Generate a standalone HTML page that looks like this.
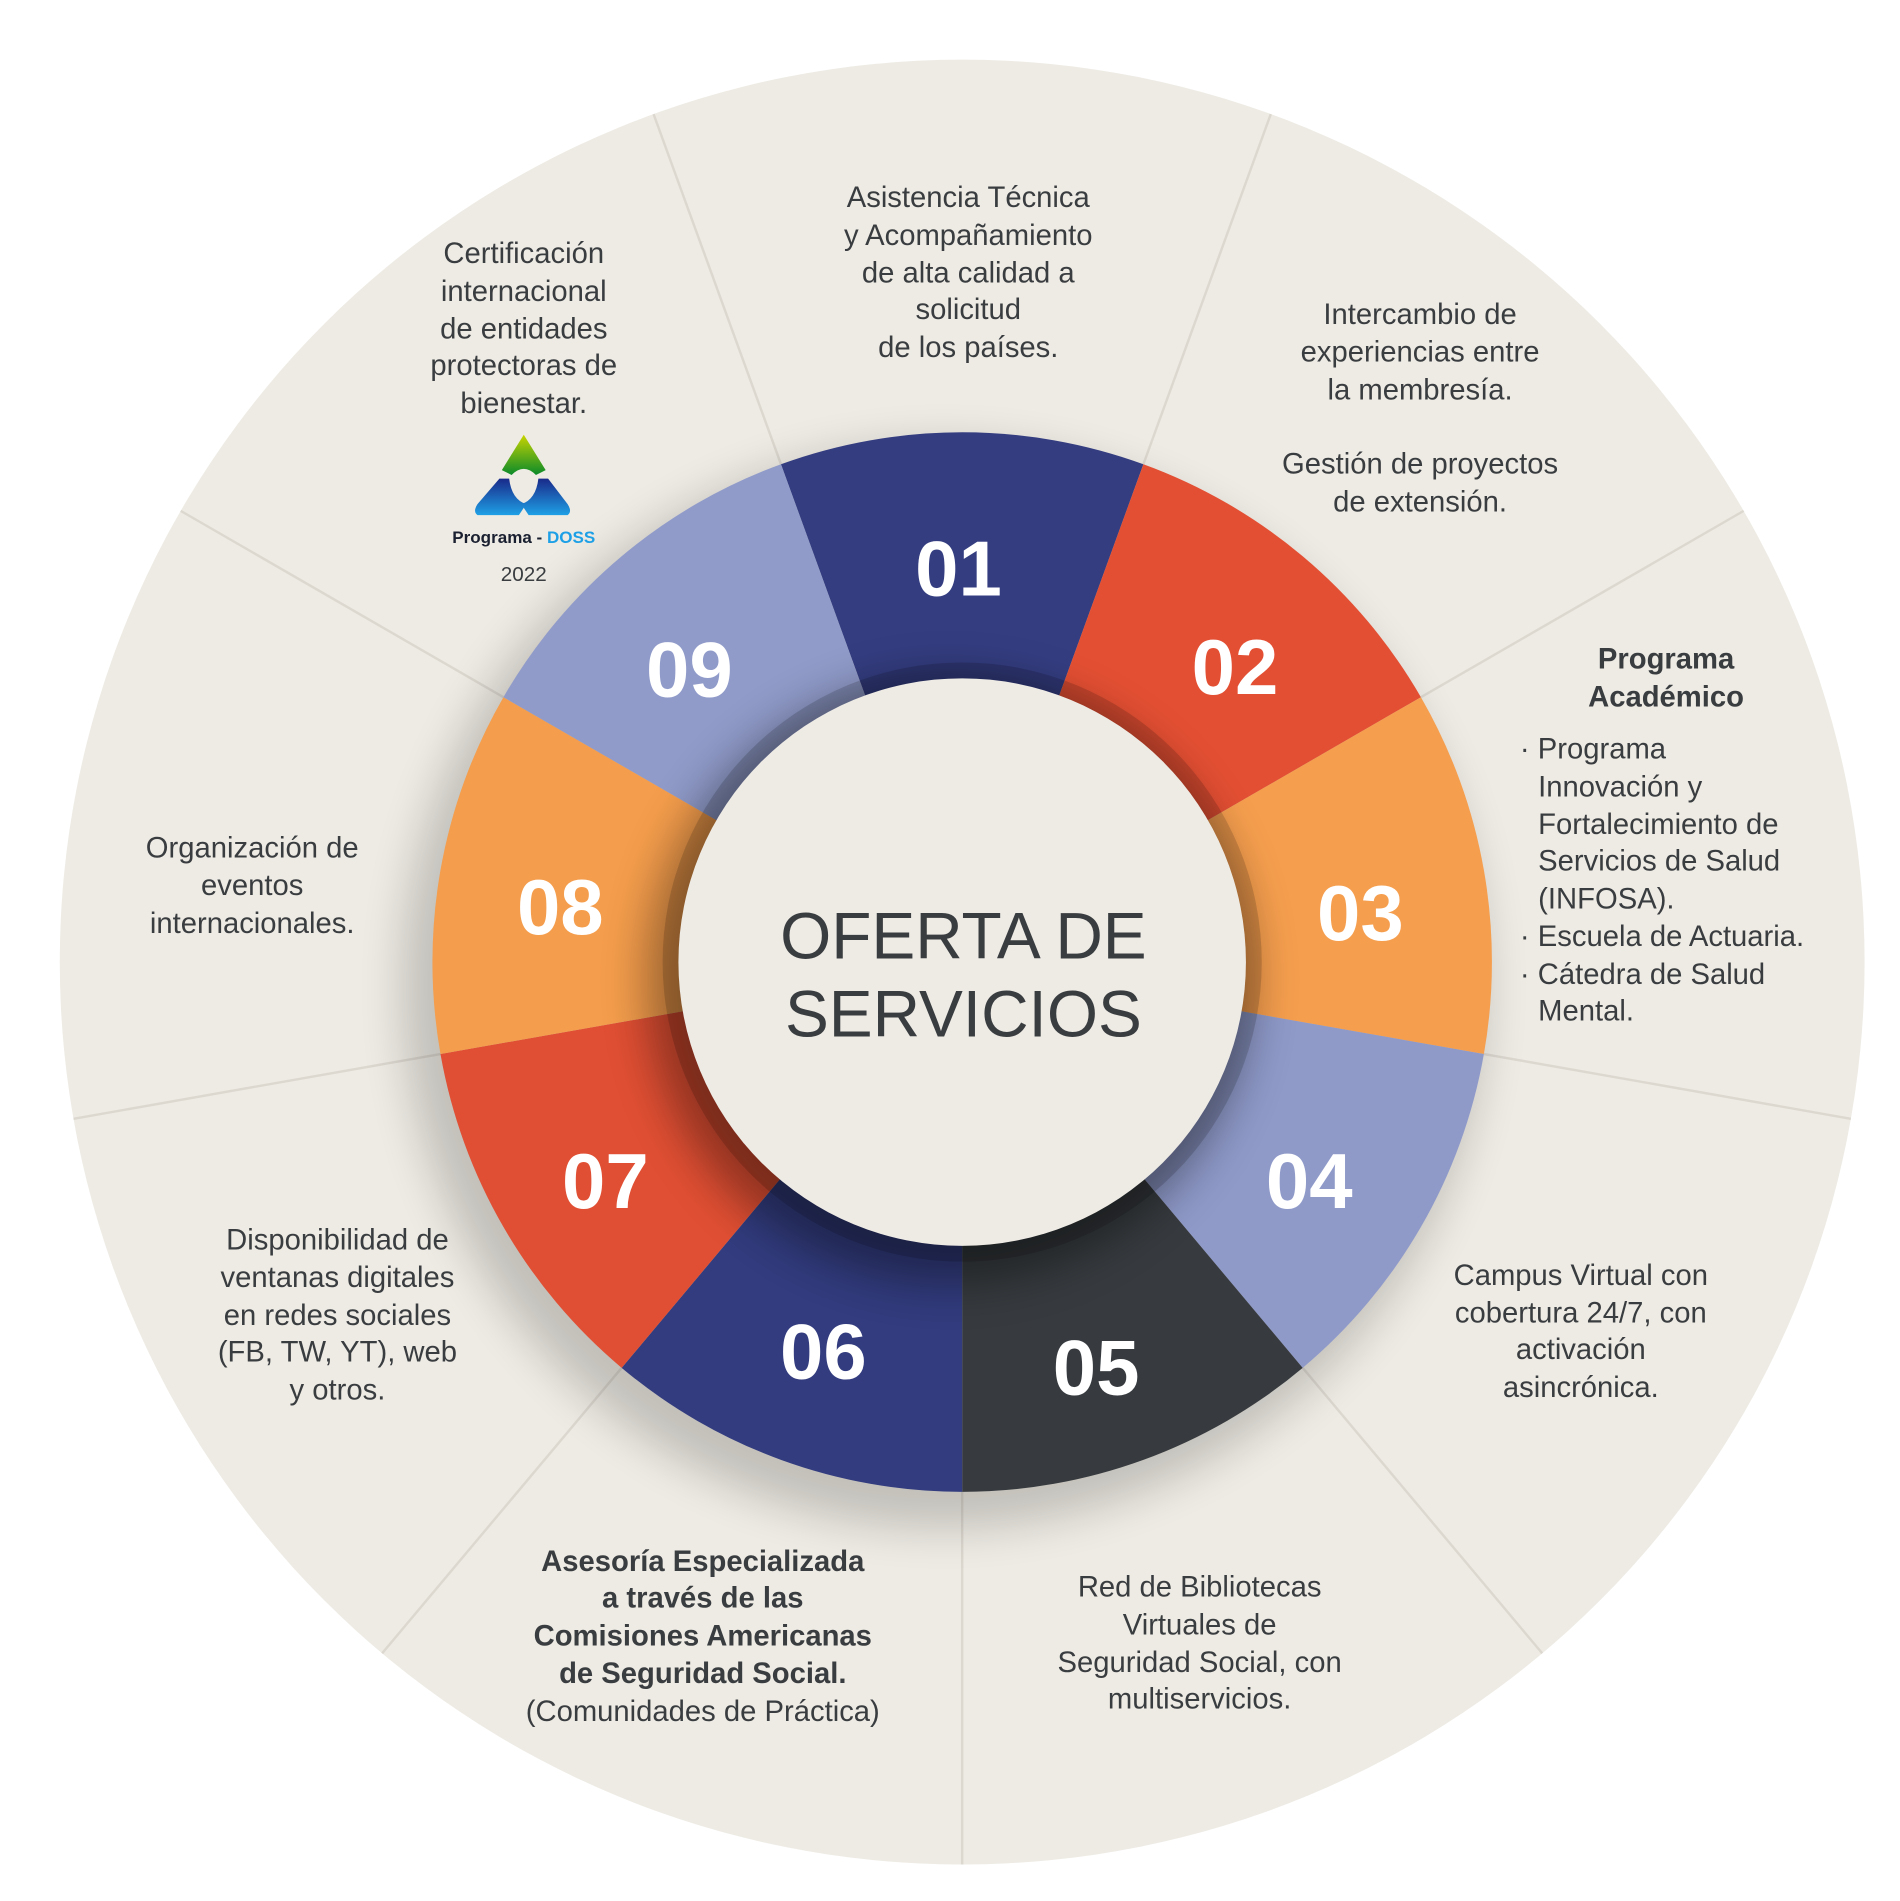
<!DOCTYPE html>
<html><head><meta charset="utf-8"><style>
html,body{margin:0;padding:0;background:#fff;}
svg{display:block}
text{font-family:"Liberation Sans",sans-serif;}
</style></head><body>
<svg width="1900" height="1901" viewBox="0 0 1560 1561" xmlns="http://www.w3.org/2000/svg">
<defs>
<filter id="sh" x="-20%" y="-20%" width="140%" height="140%"><feGaussianBlur stdDeviation="18"/></filter>
<filter id="sh2" x="-20%" y="-20%" width="140%" height="140%"><feGaussianBlur stdDeviation="6"/></filter>
<linearGradient id="lg" x1="0" y1="0" x2="0" y2="1"><stop offset="0" stop-color="#c8d400"/><stop offset="1" stop-color="#0a8a2a"/></linearGradient>
<linearGradient id="bg" x1="0" y1="0" x2="0" y2="1"><stop offset="0" stop-color="#1a2a8a"/><stop offset="1" stop-color="#1ea0e6"/></linearGradient>
</defs>
<rect width="1560" height="1561" fill="#fff"/>
<circle cx="790" cy="790" r="741" fill="#eeebe4"/>
<g stroke="#dcd8d0" stroke-width="2">
<line x1="641.2" y1="381.2" x2="536.6" y2="93.7"/>
<line x1="938.8" y1="381.2" x2="1043.4" y2="93.7"/>
<line x1="1166.7" y1="572.5" x2="1431.7" y2="419.5"/>
<line x1="1218.4" y1="865.5" x2="1519.7" y2="918.7"/>
<line x1="1069.6" y1="1123.2" x2="1266.3" y2="1357.6"/>
<line x1="790" y1="1225" x2="790" y2="1531"/>
<line x1="510.4" y1="1123.2" x2="313.7" y2="1357.6"/>
<line x1="361.6" y1="865.5" x2="60.3" y2="918.7"/>
<line x1="413.3" y1="572.5" x2="148.3" y2="419.5"/>
</g>
<circle cx="775" cy="810" r="445" fill="#000" opacity="0.18" filter="url(#sh)"/>
<path d="M790 790 L641.2 381.2 A435 435 0 0 1 938.8 381.2Z" fill="#343d80"/>
<path d="M790 790 L938.8 381.2 A435 435 0 0 1 1166.7 572.5Z" fill="#e34f33"/>
<path d="M790 790 L1166.7 572.5 A435 435 0 0 1 1218.4 865.5Z" fill="#f59e4e"/>
<path d="M790 790 L1218.4 865.5 A435 435 0 0 1 1069.6 1123.2Z" fill="#8f9ac9"/>
<path d="M790 790 L1069.6 1123.2 A435 435 0 0 1 790 1225Z" fill="#373b3f"/>
<path d="M790 790 L790 1225 A435 435 0 0 1 510.4 1123.2Z" fill="#323c7e"/>
<path d="M790 790 L510.4 1123.2 A435 435 0 0 1 361.6 865.5Z" fill="#e04f33"/>
<path d="M790 790 L361.6 865.5 A435 435 0 0 1 413.3 572.5Z" fill="#f49d4c"/>
<path d="M790 790 L413.3 572.5 A435 435 0 0 1 641.2 381.2Z" fill="#909bc9"/>
<circle cx="780" cy="805" r="250" fill="#000" opacity="0.35" filter="url(#sh)"/>
<circle cx="790" cy="790" r="246" fill="#000" opacity="0.15"/>
<circle cx="790" cy="790" r="233" fill="#eeebe5"/>
<g fill="#fff" font-weight="bold" font-size="64" text-anchor="middle">
<text x="787" y="489">01</text><text x="1014" y="570">02</text><text x="1117" y="772">03</text>
<text x="1075" y="992">04</text><text x="900" y="1145">05</text><text x="676" y="1132">06</text>
<text x="497" y="992">07</text><text x="460" y="767">08</text><text x="566" y="572">09</text>
</g>
<g fill="#3a3d40" font-size="54" text-anchor="middle">
<text x="791" y="787">OFERTA DE</text><text x="791" y="851">SERVICIOS</text>
</g>
<g fill="#3a3d40" font-size="24" text-anchor="middle">
<text x="795" y="170">Asistencia Técnica</text><text x="795" y="201">y Acompañamiento</text><text x="795" y="232">de alta calidad a</text><text x="795" y="262">solicitud</text><text x="795" y="293">de los países.</text>
<text x="1166" y="266">Intercambio de</text><text x="1166" y="297">experiencias entre</text><text x="1166" y="328">la membresía.</text><text x="1166" y="389">Gestión de proyectos</text><text x="1166" y="420">de extensión.</text>
<text x="1368" y="549" font-weight="bold">Programa</text><text x="1368" y="580" font-weight="bold">Académico</text>
<text x="1298" y="1055">Campus Virtual con</text><text x="1298" y="1086">cobertura 24/7, con</text><text x="1298" y="1116">activación</text><text x="1298" y="1147">asincrónica.</text>
<text x="985" y="1311">Red de Bibliotecas</text><text x="985" y="1342">Virtuales de</text><text x="985" y="1373">Seguridad Social, con</text><text x="985" y="1403">multiservicios.</text>
<g font-weight="bold"><text x="577" y="1290">Asesoría Especializada</text><text x="577" y="1320">a través de las</text><text x="577" y="1351">Comisiones Americanas</text><text x="577" y="1382">de Seguridad Social.</text></g>
<text x="577" y="1413">(Comunidades de Práctica)</text>
<text x="277" y="1026">Disponibilidad de</text><text x="277" y="1057">ventanas digitales</text><text x="277" y="1088">en redes sociales</text><text x="277" y="1118">(FB, TW, YT), web</text><text x="277" y="1149">y otros.</text>
<text x="207" y="704">Organización de</text><text x="207" y="735">eventos</text><text x="207" y="766">internacionales.</text>
<text x="430" y="216">Certificación</text><text x="430" y="247">internacional</text><text x="430" y="278">de entidades</text><text x="430" y="308">protectoras de</text><text x="430" y="339">bienestar.</text>
<text x="430" y="477" font-size="17">2022</text>
</g>
<g fill="#3a3d40" font-size="24">
<text x="1248" y="623">· Programa</text><text x="1263" y="654">Innovación y</text><text x="1263" y="685">Fortalecimiento de</text><text x="1263" y="715">Servicios de Salud</text><text x="1263" y="746">(INFOSA).</text>
<text x="1248" y="777">· Escuela de Actuaria.</text><text x="1248" y="808">· Cátedra de Salud</text><text x="1263" y="838">Mental.</text>
</g>
<path d="M430 357 L448 386 L440 390 Q430 380 420 390 L412 386Z" fill="url(#lg)"/>
<path d="M410 393 L418 393 Q420 410 432 414 L426 423 L392 423 Q388 420 392 414Z" fill="url(#bg)"/>
<path d="M450 393 L442 393 Q440 410 428 414 L434 423 L466 423 Q470 420 466 414Z" fill="url(#bg)"/>
<text x="430" y="446" font-size="14" font-weight="bold" text-anchor="middle" fill="#1a2030">Programa - <tspan fill="#1ea0e6">DOSS</tspan></text>
</svg>
</body></html>
